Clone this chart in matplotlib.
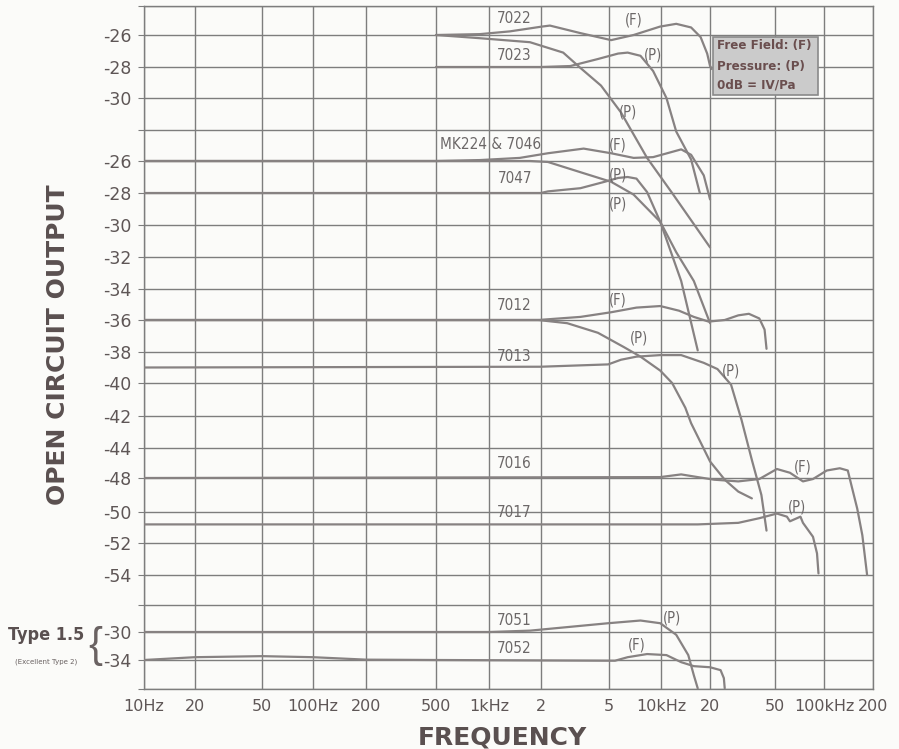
import numpy as np
import matplotlib
matplotlib.use('Agg')
import matplotlib.pyplot as plt
from matplotlib.patches import Rectangle

# ---------------- axis definitions ----------------
x_ticks = [10, 20, 50, 100, 200, 500, 1000, 2000, 5000, 10000, 20000, 50000, 100000, 200000]
x_labels = ['10Hz', '20', '50', '100Hz', '200', '500', '1kHz', '2', '5', '10kHz', '20', '50', '100kHz', '200']
# one label per grid row (row 0 = top border, row 22 = bottom border)
y_labels = ['', '-26', '-28', '-30', '', '-26', '-28', '-30', '-32', '-34', '-36', '-38',
            '-40', '-42', '-44', '-48', '-50', '-52', '-54', '', '-30', '-34', '']

# panels: (reference dB, row of that dB, dB per grid row)
panel_A = (-26, 1, 2)
panel_B = (-26, 5, 2)
panel_C = (-48, 15, 2)
panel_D = (-30, 20, 4)

# ---------------- curve data (Hz, dB) ----------------
f_7022F = [500, 887, 1323, 2030, 2260, 3400, 5130, 6930, 9870, 12400, 15300, 17500, 19200, 20000, 20500]
db_7022F = [-26, -25.94, -25.75, -25.42, -25.35, -25.87, -26.32, -26.0, -25.42, -25.23, -25.48, -26.13, -27.16, -27.94, -28.13]

f_7022P = [500, 887, 1730, 2700, 3400, 4480, 5850, 8300, 11700, 20000]
db_7022P = [-26, -26.2, -26.45, -27.1, -28.06, -29.2, -30.9, -33.8, -36.0, -39.4]

f_7023P = [500, 2000, 2970, 4300, 5630, 6400, 7600, 9000, 10800, 12400, 15300, 17300]
db_7023P = [-28, -28, -27.94, -27.5, -27.16, -27.1, -27.3, -28.26, -30.0, -32.1, -33.9, -36.0]

f_MK224F = [10, 500, 887, 1510, 2200, 3550, 5130, 6930, 9000, 13300, 15300, 18300, 20000]
db_MK224F = [-26, -26, -25.94, -25.8, -25.5, -25.2, -25.5, -25.8, -25.75, -25.25, -25.6, -26.9, -28.4]

f_MK224P = [10, 500, 1000, 1730, 2200, 3400, 5130, 6930, 9900, 12400, 15900, 20000]
db_MK224P = [-26, -26, -26, -26, -26.06, -26.7, -27.3, -28.1, -29.8, -31.7, -33.5, -36.2]

f_7047P = [10, 1000, 2000, 2200, 3400, 4700, 5630, 6400, 7200, 8300, 9900, 13300, 16800]
db_7047P = [-28, -28, -28, -27.9, -27.7, -27.3, -27.06, -27.0, -27.1, -27.94, -29.8, -33.5, -37.9]

f_7012F = [10, 1000, 1930, 3400, 5130, 7200, 9900, 12900, 15900, 19600, 24600, 29800, 34600, 40100, 43200, 44400]
db_7012F = [-36, -36, -36, -35.8, -35.5, -35.2, -35.1, -35.4, -35.8, -36.1, -36.0, -35.7, -35.6, -35.9, -36.6, -37.8]

f_7012P = [10, 1930, 2850, 4300, 6100, 7600, 9900, 11700, 14100, 15300, 20000, 24600, 29800, 36100]
db_7012P = [-36, -36, -36.2, -36.8, -37.7, -38.3, -39.2, -40.0, -41.5, -42.45, -44.9, -46.1, -46.8, -47.2]

f_7013P = [10, 2000, 4930, 5850, 7200, 9900, 13300, 18300, 22200, 26900, 31200, 36100, 41300, 44400]
db_7013P = [-39, -38.95, -38.8, -38.5, -38.3, -38.2, -38.2, -38.7, -39.1, -40.1, -42.25, -44.8, -47.0, -49.2]

f_7016F = [10, 9900, 13300, 16800, 21200, 29800, 40100, 51400, 61800, 74300, 85600, 104000, 125000, 140000, 148000, 160000, 172000, 184000]
db_7016F = [-48, -47.94, -47.76, -47.94, -48.1, -48.2, -48.06, -47.4, -47.65, -48.2, -48.06, -47.5, -47.35, -47.5, -48.5, -49.8, -51.5, -54.0]

f_7017P = [10, 16800, 29800, 40100, 51400, 59200, 61800, 71700, 74300, 85600, 90600, 92500]
db_7017P = [-50.8, -50.8, -50.7, -50.4, -50.1, -50.3, -50.6, -50.3, -50.7, -51.6, -52.65, -53.9]

f_7051P = [10, 1000, 1730, 4930, 7600, 9900, 12400, 14700, 15900, 16800]
db_7051P = [-30, -30, -29.8, -28.7, -28.3, -28.7, -30.4, -33.3, -36.1, -37.9]

f_7052F = [10, 20, 50, 100, 200, 500, 5400, 6400, 8300, 10800, 13300, 15900, 20000, 23200, 24300, 24600]
db_7052F = [-34, -33.6, -33.45, -33.6, -33.95, -34, -34.1, -33.6, -33.15, -33.3, -34.3, -34.85, -35.0, -35.4, -36.5, -37.9]

curves = [
    (f_7022F, db_7022F, panel_A), (f_7022P, db_7022P, panel_A), (f_7023P, db_7023P, panel_A),
    (f_MK224F, db_MK224F, panel_B), (f_MK224P, db_MK224P, panel_B), (f_7047P, db_7047P, panel_B),
    (f_7012F, db_7012F, panel_B), (f_7012P, db_7012P, panel_B), (f_7013P, db_7013P, panel_B),
    (f_7016F, db_7016F, panel_C), (f_7017P, db_7017P, panel_C),
    (f_7051P, db_7051P, panel_D), (f_7052F, db_7052F, panel_D),
]

# model name labels: (text, freq, dB, panel)
model_labels = [
    ('7022', 1410, -24.85, panel_A), ('7023', 1410, -27.25, panel_A),
    ('MK224 & 7046', 1020, -24.96, panel_B), ('7047', 1410, -27.1, panel_B),
    ('7012', 1410, -35.05, panel_B), ('7013', 1410, -38.3, panel_B),
    ('7016', 1410, -47.0, panel_C), ('7017', 1410, -50.05, panel_C),
    ('7051', 1410, -28.25, panel_D), ('7052', 1410, -32.3, panel_D),
]
# (F)/(P) markers: (text, freq, dB, panel)
fp_labels = [
    ('(F)', 6930, -24.96, panel_A), ('(P)', 9000, -27.25, panel_A), ('(P)', 6400, -30.9, panel_A),
    ('(F)', 5630, -24.96, panel_B), ('(P)', 5630, -26.9, panel_B), ('(P)', 5630, -28.7, panel_B),
    ('(F)', 5630, -34.7, panel_B), ('(P)', 7400, -37.1, panel_B), ('(P)', 26900, -39.2, panel_B),
    ('(F)', 74300, -47.3, panel_C), ('(P)', 68300, -49.7, panel_C),
    ('(P)', 11700, -27.9, panel_D), ('(F)', 7200, -31.85, panel_D),
]


def to_row(db, panel):
    ref_db, ref_row, step = panel
    return ref_row + (ref_db - np.asarray(db, dtype=float)) / step


# ---------------- scales matching the printed grid ----------------
X_LOG = [0.0, 1.0, 2.0, 3.0, 4.0, 5.0, np.log10(200000), 7.0]
X_PX = [-25.0, 144.0, 313.0, 489.0, 661.0, 824.0, 873.0, 1150.0]
Y_ROW = [-5.0] + list(range(23)) + [27.0]
Y_PX = [-150.0, 6, 35, 67, 98, 130, 161, 193, 225, 257, 289, 320, 352, 383, 416, 448,
        478, 512, 543, 575, 605, 632, 660, 689, 845.0]


def fwd_x(f):
    f = np.asarray(f, dtype=float)
    return np.interp(np.log10(np.clip(f, 1.001, 9.99e6)), X_LOG, X_PX)


def inv_x(p):
    return 10 ** np.interp(np.asarray(p, dtype=float), X_PX, X_LOG)


def fwd_y(r):
    return np.interp(np.asarray(r, dtype=float), Y_ROW, Y_PX)


def inv_y(p):
    return np.interp(np.asarray(p, dtype=float), Y_PX, Y_ROW)


# ---------------- figure ----------------
W, H = 899, 749
fig = plt.figure(figsize=(W / 100, H / 100), dpi=100)
bg = '#fbfbf9'
fig.patch.set_facecolor(bg)
ax = fig.add_axes([144 / W, 1 - 689 / H, (873 - 144) / W, (689 - 6) / H])
ax.set_facecolor(bg)

grid_c = '#7d7d7d'
curve_c = '#878282'
text_c = '#5e5656'

ax.set_xscale('function', functions=(fwd_x, inv_x))
ax.set_yscale('function', functions=(fwd_y, inv_y))
ax.set_xlim(10, 200000)
ax.set_ylim(22, 0)

ax.set_xticks(x_ticks)
ax.set_xticklabels(x_labels)
ax.xaxis.set_minor_locator(matplotlib.ticker.NullLocator())
ax.yaxis.set_minor_locator(matplotlib.ticker.NullLocator())
ax.set_yticks(range(len(y_labels)))
ax.set_yticklabels(y_labels)
ax.grid(True, which='major', color=grid_c, linewidth=1.0)
ax.set_axisbelow(True)
ax.tick_params(axis='x', length=0, pad=7, labelsize=11.5, labelcolor=text_c)
ax.tick_params(axis='y', length=4, color=grid_c, pad=5, labelsize=12.5, labelcolor=text_c)
for s in ax.spines.values():
    s.set_color(grid_c)
    s.set_linewidth(1.0)

for f, db, panel in curves:
    ax.plot(f, to_row(db, panel), color=curve_c, linewidth=1.6, solid_capstyle='round',
            solid_joinstyle='round', zorder=3)

for txt, f, db, panel in model_labels:
    ax.text(f, to_row(db, panel), txt, ha='center', va='center', fontsize=11,
            color='#6c6868', fontstretch='condensed', zorder=4)
for txt, f, db, panel in fp_labels:
    ax.text(f, to_row(db, panel), txt, ha='center', va='center', fontsize=10.5,
            color='#6c6868', fontstretch='condensed', zorder=4)

# legend box
ax.add_patch(Rectangle((20900, 1.06), 91800 - 20900, 1.84, facecolor='#cbcbcb',
                       edgecolor='#8a8a8a', linewidth=1.2, zorder=5))
for line, r in zip(['Free Field: (F)', 'Pressure: (P)', '0dB = IV/Pa'], [1.34, 1.97, 2.58]):
    ax.text(22000, r, line, ha='left', va='center', fontsize=8.6,
            fontweight='bold', color='#6a4e4e', zorder=6)

# axis titles
fig.text(58 / W, 1 - 345 / H, 'OPEN CIRCUIT OUTPUT', rotation=90, ha='center', va='center',
         fontsize=18, fontweight='bold', color='#5a5050')
fig.text(502 / W, 1 - 737 / H, 'FREQUENCY', ha='center', va='center',
         fontsize=18, fontweight='bold', color='#5a5050')

# Type 1.5 annotation
fig.text(46 / W, 1 - 635 / H, 'Type 1.5', ha='center', va='center', fontsize=13,
         fontweight='bold', fontstretch='condensed', color='#5a5050')
fig.text(46 / W, 1 - 662 / H, '(Excellent Type 2)', ha='center', va='center', fontsize=5,
         color='#6a6262')
fig.text(95 / W, 1 - 646 / H, '{', ha='center', va='center', fontsize=30,
         color='#6a6262', family='Liberation Sans')

fig.savefig('out.png', dpi=100, facecolor=bg)
